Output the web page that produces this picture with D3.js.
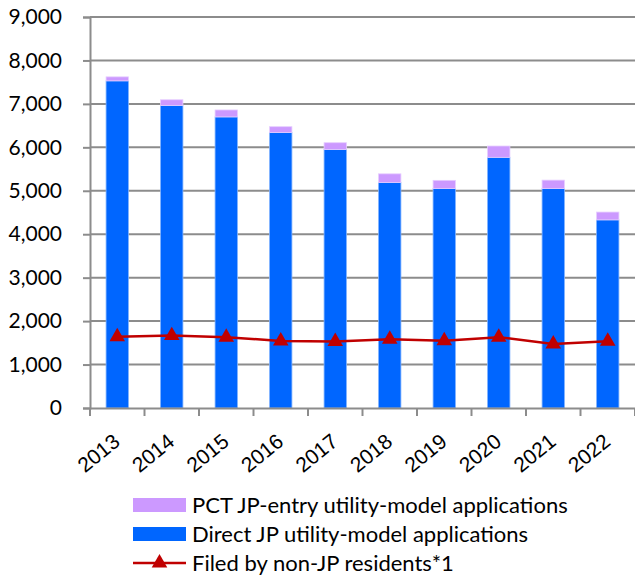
<!DOCTYPE html>
<html>
<head>
<meta charset="utf-8">
<script src="https://cdn.jsdelivr.net/npm/d3@7"></script>
<style>
  body { margin: 0; background: #fff; }
  svg { display: block; font-family: Lato, "Liberation Sans", sans-serif; }
</style>
</head>
<body>
<div id="chart"></div>
<script>
const years = ["2013", "2014", "2015", "2016", "2017", "2018", "2019", "2020", "2021", "2022"];
const directApps = [7530, 6965, 6700, 6340, 5950, 5190, 5050, 5770, 5050, 4330];
const pctApps = [92, 130, 160, 135, 156, 200, 190, 260, 195, 180];
const nonResidents = [1640, 1666, 1630, 1544, 1530, 1580, 1550, 1630, 1475, 1537];
const yTicks = [0, 1000, 2000, 3000, 4000, 5000, 6000, 7000, 8000, 9000];
const legendLabels = [
    "PCT JP-entry utility-model applications",
    "Direct JP utility-model applications",
    "Filed by non-JP residents*1"
];

const width = 635, height = 575;
const margin = { top: 17, right: 0, bottom: 167, left: 90 };
const plotW = width - margin.left - margin.right;
const plotH = height - margin.top - margin.bottom;
const blue = "#0066ff", purple = "#cc99ff", red = "#c00000", gridColor = "#8c8c8c";

const svg = d3.select("#chart")
    .append("svg")
    .attr("width", width)
    .attr("height", height);

const g = svg.append("g")
    .attr("transform", `translate(${margin.left},${margin.top})`);

const x = d3.scaleBand()
    .domain(years)
    .range([0, plotW])
    .paddingInner(0.59)
    .paddingOuter(0.295);

const xTick = d3.scaleBand().domain(years).range([0, plotW]);

const y = d3.scaleLinear()
    .domain([0, 9000])
    .range([plotH, 0]);

// Gridlines
g.selectAll(".grid")
    .data(yTicks.filter(d => d > 0))
    .enter()
    .append("line")
    .attr("class", "grid")
    .attr("x1", 0)
    .attr("x2", plotW)
    .attr("y1", d => y(d))
    .attr("y2", d => y(d))
    .attr("stroke", gridColor)
    .attr("stroke-width", 2);

// Stacked bars
const stacked = years.map((yr, i) => ({ year: yr, direct: directApps[i], pct: pctApps[i] }));

g.selectAll(".bar-direct")
    .data(stacked)
    .enter()
    .append("rect")
    .attr("class", "bar-direct")
    .attr("x", d => x(d.year))
    .attr("width", x.bandwidth())
    .attr("y", d => y(d.direct))
    .attr("height", d => y(0) - y(d.direct))
    .attr("fill", blue)
    .attr("stroke", "#7fb2ff")
    .attr("stroke-width", 0.8);

g.selectAll(".bar-pct")
    .data(stacked)
    .enter()
    .append("rect")
    .attr("class", "bar-pct")
    .attr("x", d => x(d.year))
    .attr("width", x.bandwidth())
    .attr("y", d => y(d.direct + d.pct))
    .attr("height", d => y(d.direct) - y(d.direct + d.pct))
    .attr("fill", purple)
    .attr("stroke", "#e6ccff")
    .attr("stroke-width", 0.8);

// Axes
const yAxis = g.append("g")
    .call(d3.axisLeft(y).tickValues(yTicks).tickSize(7).tickFormat(d3.format(",")));
yAxis.select(".domain").attr("stroke", gridColor).attr("stroke-width", 2);
yAxis.selectAll(".tick line").attr("stroke", gridColor).attr("stroke-width", 2);
yAxis.selectAll(".tick text")
    .attr("x", -28)
    .attr("font-size", "21px")
    .attr("font-family", "Lato, sans-serif")
    .attr("fill", "#000");

const xAxis = g.append("g")
    .attr("transform", `translate(0,${plotH})`)
    .call(d3.axisBottom(xTick).tickSize(0).tickFormat(""));
xAxis.select(".domain").attr("stroke", gridColor).attr("stroke-width", 2);

// tick marks at band boundaries
xAxis.selectAll(".sep")
    .data(years.concat(["end"]))
    .enter()
    .append("line")
    .attr("class", "sep")
    .attr("x1", (d, i) => i * xTick.step())
    .attr("x2", (d, i) => i * xTick.step())
    .attr("y1", 0)
    .attr("y2", 8)
    .attr("stroke", gridColor)
    .attr("stroke-width", 2);

xAxis.selectAll(".xlabel")
    .data(years)
    .enter()
    .append("text")
    .attr("class", "xlabel")
    .attr("transform", d => `translate(${xTick(d) + xTick.bandwidth() / 2 + 4},${36}) rotate(-39)`)
    .attr("text-anchor", "end")
    .attr("font-size", "21px")
    .attr("fill", "#000")
    .text(d => d);

// Line for non-JP residents
const line = d3.line()
    .x((d, i) => x(years[i]) + x.bandwidth() / 2)
    .y(d => y(d));

g.append("path")
    .datum(nonResidents)
    .attr("d", line)
    .attr("fill", "none")
    .attr("stroke", red)
    .attr("stroke-width", 2.5);

const tri = d3.symbol().type(d3.symbolTriangle).size(105);

g.selectAll(".marker")
    .data(nonResidents)
    .enter()
    .append("path")
    .attr("class", "marker")
    .attr("d", tri)
    .attr("transform", (d, i) => `translate(${x(years[i]) + x.bandwidth() / 2},${y(d)})`)
    .attr("fill", red);

// Legend
const legend = svg.append("g").attr("transform", "translate(133,505)");
const legendRows = legend.selectAll(".row")
    .data(legendLabels)
    .enter()
    .append("g")
    .attr("transform", (d, i) => `translate(0,${i * 29})`);

legendRows.filter((d, i) => i < 2)
    .append("rect")
    .attr("y", -7)
    .attr("width", 53)
    .attr("height", 14)
    .attr("fill", (d, i) => i === 0 ? purple : blue);

const lineRow = legendRows.filter((d, i) => i === 2);
lineRow.append("line")
    .attr("x1", 0).attr("x2", 53)
    .attr("y1", 0).attr("y2", 0)
    .attr("stroke", red)
    .attr("stroke-width", 2.5);
lineRow.append("path")
    .attr("d", tri)
    .attr("transform", "translate(26.5,0)")
    .attr("fill", red);

legendRows.append("text")
    .attr("x", 59)
    .attr("dy", "0.35em")
    .attr("font-size", "22px")
    .attr("fill", "#000")
    .text(d => d);
</script>
</body>
</html>
